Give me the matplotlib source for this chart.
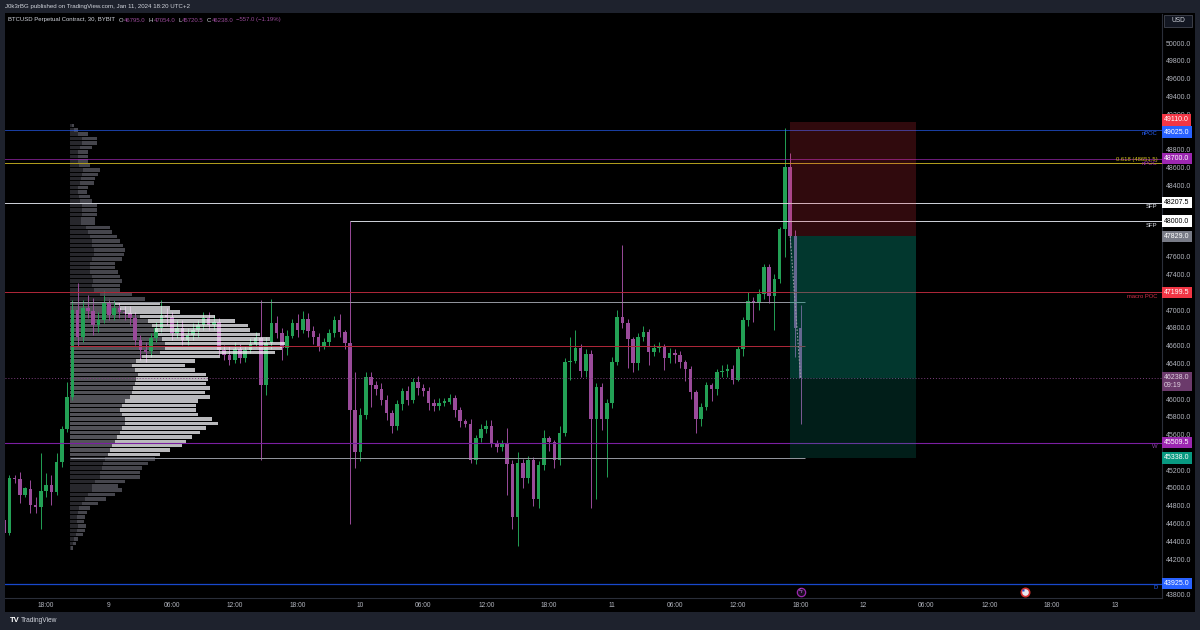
import numpy as np
import pandas as pd
import matplotlib
matplotlib.use("Agg")
import matplotlib.pyplot as plt
from matplotlib.patches import Rectangle
from matplotlib.colors import to_rgba

plt.rcParams['font.family'] = ['Liberation Sans', 'DejaVu Sans']

# 30 min candles, BTCUSD Bybit, first bar Jan 8 14:00 (UTC+2)
opens = [44640, 44495, 45110, 45100, 44920, 44990, 44810, 44790, 44965, 45035,
         44955, 45290, 45660, 46020, 47000, 46695, 47020, 46990, 46830, 46890,
         47080, 46945, 47020, 46980, 46965, 46910, 46660, 46550, 46535, 46685,
         46800, 46945, 46925, 46740, 46800, 46665, 46720, 46775, 46830, 46910,
         46830, 46870, 46550, 46500, 46440, 46560, 46460, 46550, 46620, 46680,
         46160, 46630, 46850, 46740, 46570, 46710, 46855, 46780, 46900, 46765,
         46695, 46600, 46640, 46740, 46890, 46750, 46630, 45875, 45400, 45820,
         46250, 46160, 46110, 45990, 45840, 45700, 45945, 46090, 45990, 46190,
         46120, 46090, 45950, 45920, 45960, 45965, 46010, 45880, 45750, 45720,
         45310, 45560, 45660, 45700, 45510, 45465, 45500, 45270, 44670, 45280,
         45110, 45310, 44880, 45260, 45560, 45515, 45315, 45620, 46415, 46430,
         46570, 46310, 46505, 45775, 46135, 45775, 45950, 46415, 46920, 46855,
         46670, 46405, 46700, 46750, 46530, 46575, 46580, 46460, 46520, 46500,
         46415, 46335, 46080, 45775, 45910, 46160, 46115, 46305, 46310, 46340,
         46215, 46560, 46890, 47100, 47080, 47180, 47480, 47160, 47350, 47910,
         48610, 47830, 46795]
highs = [44700, 45145, 45150, 45180, 45010, 45090, 44900, 45395, 45170, 45145,
         45395, 45700, 46190, 47110, 47300, 47110, 47170, 47135, 46980, 47225,
         47135, 47110, 47090, 47050, 47050, 46980, 46720, 46640, 46740, 46860,
         47110, 47020, 46980, 46890, 46890, 46800, 46850, 46890, 46980, 46980,
         46940, 46910, 46610, 46600, 46640, 46620, 46600, 46680, 46750, 47110,
         46700, 47120, 46930, 46800, 46780, 46900, 46960, 46990, 46970, 46820,
         46740, 46680, 46790, 46930, 46950, 46780, 48000, 46300, 45900, 46300,
         46300, 46200, 46180, 46050, 45880, 45990, 46120, 46150, 46240, 46260,
         46170, 46130, 46000, 46010, 46010, 46060, 46050, 45910, 45780, 45770,
         45600, 45720, 45760, 45760, 45540, 45540, 45670, 45320, 45400, 45330,
         45360, 45350, 45300, 45650, 45580, 45540, 45700, 46460, 46700, 46775,
         46620, 46560, 46550, 46180, 46180, 46000, 46470, 47000, 47730, 46900,
         46700, 46740, 46820, 46790, 46620, 46640, 46620, 46570, 46560, 46540,
         46440, 46370, 46100, 45950, 46190, 46180, 46340, 46380, 46390, 46380,
         46600, 46920, 47200, 47150, 47240, 47520, 47520, 47400, 47930, 49040,
         48760, 47900, 47054]
lows = [44440, 44470, 45060, 44830, 44900, 44720, 44720, 44540, 44900, 44810,
        44920, 45235, 45630, 45990, 46590, 46640, 46910, 46720, 46755, 46855,
        46890, 46890, 46910, 46890, 46830, 46610, 46440, 46420, 46470, 46640,
        46750, 46830, 46660, 46690, 46610, 46610, 46660, 46700, 46780, 46780,
        46780, 46490, 46440, 46380, 46400, 46400, 46420, 46520, 46580, 45315,
        46045, 46560, 46680, 46440, 46500, 46680, 46700, 46740, 46700, 46620,
        46540, 46560, 46600, 46700, 46700, 46560, 44600, 45230, 45300, 45780,
        45910, 46040, 45930, 45760, 45620, 45650, 45880, 45930, 45950, 46050,
        46030, 45880, 45870, 45880, 45920, 45940, 45800, 45690, 45680, 45280,
        45270, 45520, 45620, 45460, 45400, 45420, 44920, 44540, 44350, 45000,
        45060, 44800, 44780, 45200, 45420, 45230, 45260, 45580, 46210, 46400,
        46250, 46250, 44780, 44880, 45650, 45125, 45900, 46380, 46800, 46350,
        46300, 46330, 46650, 46380, 46480, 46530, 46330, 46410, 46400, 46350,
        46200, 46000, 45620, 45695, 45880, 45980, 46050, 46250, 46250, 46170,
        46200, 46480, 46820, 46860, 47000, 47120, 47080, 46780, 47300, 47600,
        47700, 46470, 45720]
closes = [44490, 45110, 45100, 44920, 44995, 44810, 44790, 44965, 45035, 44955,
          45290, 45660, 46020, 47000, 46695, 47020, 46990, 46830, 46890, 47080,
          46945, 47020, 46980, 46965, 46910, 46660, 46550, 46530, 46685, 46800,
          46945, 46925, 46740, 46800, 46665, 46720, 46775, 46830, 46910, 46830,
          46870, 46550, 46495, 46440, 46560, 46460, 46550, 46620, 46680, 46160,
          46630, 46850, 46740, 46570, 46710, 46855, 46780, 46900, 46765, 46695,
          46600, 46640, 46740, 46890, 46750, 46630, 45875, 45400, 45820, 46250,
          46160, 46110, 45990, 45840, 45700, 45945, 46090, 45990, 46190, 46120,
          46090, 45950, 45920, 45960, 45965, 46010, 45880, 45750, 45720, 45310,
          45560, 45660, 45700, 45510, 45465, 45500, 45270, 44670, 45280, 45110,
          45310, 44880, 45260, 45560, 45515, 45315, 45620, 46415, 46430, 46570,
          46310, 46505, 45775, 46135, 45775, 45950, 46415, 46920, 46855, 46670,
          46405, 46700, 46750, 46530, 46575, 46580, 46460, 46520, 46500, 46415,
          46335, 46080, 45775, 45910, 46160, 46115, 46305, 46310, 46340, 46215,
          46560, 46890, 47100, 47080, 47180, 47480, 47160, 47350, 47910, 48610,
          47830, 46795, 46238]

# visible range volume profile, 50 USD rows from 44300
profile_total = [3, 6, 8, 13, 15, 16, 14, 15, 17, 20, 28, 36, 45, 52, 48, 55, 70, 70, 72, 78, 85,
                 90, 100, 112, 116, 122, 130, 136, 148, 142, 128, 126, 126, 128, 140, 135, 140,
                 136, 138, 136, 125, 115, 125, 150, 205, 212, 215, 200, 190, 180, 178, 165, 145,
                 110, 100, 90,
                 75, 62, 50, 50, 52, 50, 48, 45, 45, 52, 54, 55, 53, 50, 47, 42, 40, 25, 25, 27,
                 27, 27, 22, 20, 17, 18, 24, 25, 28, 30, 20, 18, 18, 18, 22, 27, 27, 18, 8, 4]
profile_up = [1, 3, 4, 6, 7, 8, 7, 7, 8, 9, 12, 15, 18, 22, 22, 25, 30, 30, 32, 33, 35,
              38, 40, 42, 45, 47, 50, 52, 55, 55, 52, 50, 52, 55, 60, 62, 63, 65, 66, 68, 65,
              62, 66, 72, 90, 95, 95, 92, 88, 85, 82, 78, 70, 55, 50, 45,
              35, 30, 24, 22, 23, 22, 20, 20, 20, 22, 24, 24, 22, 22, 20, 18, 16, 11, 11, 12,
              12, 12, 10, 9, 8, 8, 10, 11, 12, 13, 9, 8, 8, 8, 10, 12, 12, 8, 4, 2]
profile_bottom = 44300
profile_row = 50
va_low, va_high, vpoc = 45338, 47090, 46600

# levels
npoc_blue = 49025
npoc_purple = 48700
fib_618 = 48651.5
sfp_1 = 48207.5
sfp_2 = 48000
macro_poc = 47199.5
weekly = 45509.5
daily = 43925
entry, stop, target = 47829, 49110, 45338
last_price = 46238

time_ticks = [-6, 0, 6, 12, 18, 24, 30, 36, 42, 48, 54, 60, 66, 72, 78, 84, 90, 96]
time_labels = ['18:00', '9', '06:00', '12:00', '18:00', '10', '06:00', '12:00', '18:00',
               '11', '06:00', '12:00', '18:00', '12', '06:00', '12:00', '18:00', '13']

GREEN = '#23a055'
PURPLE = '#9a4b9a'
TXT = '#b2b5be'

opens, highs, lows, closes = map(np.array, (opens, highs, lows, closes))
times = pd.date_range('2024-01-08 14:00', periods=len(opens), freq='30min')
hrs = ((times - pd.Timestamp('2024-01-09')) / pd.Timedelta(hours=1)).to_numpy()

W, H = 1200, 630
fig = plt.figure(figsize=(12, 6.3), dpi=100, facecolor='#1e222d')
fig.add_artist(Rectangle((5 / W, 1 - 612 / H), 1190 / W, 599 / H, transform=fig.transFigure,
                         fc='black', ec='none', zorder=-1))
ax = fig.add_axes([5 / W, 1 - 598 / H, 1157 / W, 584 / H])
ax.set_facecolor('black')
ax.set_xlim(-9.92, 100.48)
ax.set_ylim(43764, 50326)

# candles
col = np.where(closes >= opens, GREEN, PURPLE)
ax.vlines(hrs, lows, highs, colors=col, lw=0.7, zorder=3)
ax.bar(hrs, np.maximum(np.abs(closes - opens), 12), bottom=np.minimum(opens, closes),
       width=0.34, color=col, lw=0, zorder=3)

# volume profile
tot = np.array(profile_total, float)
upv = np.array(profile_up, float)
centers = profile_bottom + profile_row * (np.arange(len(tot)) + 0.5)
in_va = (centers > va_low) & (centers < va_high)
scale = 20.5 / tot.max()
p_left = -3.75
inner_c = [to_rgba('#5c5c62', 0.9) if v else to_rgba('#2c2c31', 0.9) for v in in_va]
outer_c = [to_rgba('#f4f4f8', 0.76) if v else to_rgba('#52525a', 0.85) for v in in_va]
ax.barh(centers, upv * scale, left=p_left, height=profile_row * 0.78, color=inner_c, lw=0, zorder=2)
ax.barh(centers, (tot - upv) * scale, left=p_left + upv * scale, height=profile_row * 0.78,
        color=outer_c, lw=0, zorder=4)

# horizontal levels
t_end = hrs[-1] + 0.4
ax.axhline(npoc_blue, color='#2962ff', lw=0.6, alpha=0.75, zorder=5)
ax.axhline(npoc_purple, color='#9c27b0', lw=0.7, alpha=0.7, zorder=5)
ax.axhline(fib_618, color='#b5a01e', lw=0.7, zorder=5)
ax.axhline(sfp_1, color='#d1d4dc', lw=0.7, zorder=5)
ax.hlines(sfp_2, hrs[66], 100.48, color='#d1d4dc', lw=0.7, zorder=5)
ax.axhline(macro_poc, color='#b2283a', lw=0.7, zorder=5)
ax.axhline(weekly, color='#7b1fa2', lw=0.8, zorder=5)
ax.axhline(daily, color='#1848cc', lw=0.9, zorder=5)
ax.hlines([va_high, va_low], p_left, t_end, color='#9598a1', lw=0.7, zorder=5)
ax.hlines(vpoc, p_left, t_end, color='#b2283a', lw=0.7, zorder=5)
ax.axhline(last_price, color='#7e3f7e', lw=0.7, ls=(0, (1, 2)), zorder=5)

# short position tool
t0, t1 = 65, 77
ax.add_patch(Rectangle((t0, entry), t1 - t0, stop - entry, fc='#f23645', alpha=0.2, lw=0, zorder=6))
ax.add_patch(Rectangle((t0, last_price), t1 - t0, entry - last_price, fc='#089981', alpha=0.36, lw=0, zorder=6))
ax.add_patch(Rectangle((t0, target), t1 - t0, last_price - target, fc='#089981', alpha=0.2, lw=0, zorder=6))
ax.plot([t0, hrs[-1]], [entry, last_price], color='#9598a1', lw=0.8, ls=(0, (1.5, 1.5)), zorder=6)

# labels next to the levels
ytr = ax.get_yaxis_transform()
def lvl_text(price, s, c, va='top', dy=0):
    ax.annotate(s, xy=(0.996, price), xycoords=ytr, xytext=(0, dy), textcoords='offset points',
                ha='right', va=va, fontsize=4.2, color=c, zorder=7)

lvl_text(npoc_blue, 'nPOC', '#2962ff', 'top', -0.8)
lvl_text(npoc_purple, 'nPOC', '#9c27b0', 'top', -1.5)
lvl_text(fib_618, '0.618 (48651.5)', '#d4c21c', 'bottom', 0.8)
lvl_text(sfp_1, 'SFP', '#e0e3eb', 'top', -1.2)
lvl_text(sfp_2, 'SFP', '#e0e3eb', 'top', -1.2)
lvl_text(macro_poc, 'macro POC', '#d8304a', 'top', -1.2)
lvl_text(weekly, 'W', '#8e44ad', 'top', -1.2)
lvl_text(daily, 'D', '#2962ff', 'top', -1.2)

# price scale: hide the tick labels that sit under a price tag
tags = [stop, npoc_blue, npoc_purple, sfp_1, sfp_2, entry, macro_poc, weekly, target, daily]
yt = np.arange(43800, 50001, 200)
ylab = []
for v in yt:
    hidden = min(abs(v - p) for p in tags) < 80 or (last_price - 190 < v < last_price + 90)
    ylab.append('' if hidden else f'{v:.1f}')
ax.yaxis.tick_right()
ax.set_yticks(yt)
ax.set_yticklabels(ylab)
ax.set_xticks(time_ticks)
ax.set_xticklabels(time_labels)
ax.tick_params(axis='y', length=0, pad=2.6, labelsize=5, labelcolor=TXT)
ax.tick_params(axis='x', length=0, pad=3.2, labelsize=4.8, labelcolor=TXT)
for s in ['top', 'left']:
    ax.spines[s].set_visible(False)
for s in ['right', 'bottom']:
    ax.spines[s].set_color('#2a2e39')
    ax.spines[s].set_linewidth(0.8)

def price_tag(price, s, fc, tc='white', dy=0):
    ax.annotate(s, xy=(1, price), xycoords=ytr, xytext=(1.6, dy), textcoords='offset points',
                ha='left', va='center', fontsize=5, color=tc, annotation_clip=False, zorder=10,
                bbox=dict(boxstyle='square,pad=0.3', fc=fc, ec='none'))

price_tag(stop, '49110.0', '#f23645', dy=1.6)
price_tag(npoc_blue, '49025.0', '#2962ff', dy=-1.6)
price_tag(npoc_purple, '48700.0', '#9c27b0')
price_tag(sfp_1, '48207.5', 'white', 'black')
price_tag(sfp_2, '48000.0', 'white', 'black')
price_tag(entry, '47829.0', '#787b86')
price_tag(macro_poc, '47199.5', '#f23645')
price_tag(last_price, '46238.0\n09:19', '#6b3a6b', '#e0d0e0', -2.6)
price_tag(weekly, '45509.5', '#9c27b0')
price_tag(target, '45338.0', '#089981')
price_tag(daily, '43925.0', '#2962ff')

# economic event icons on the time scale
btr = ax.get_xaxis_transform()
ax.plot([66], [0.011], 'o', ms=6, mfc='#1a0f1f', mec='#9c27b0', mew=0.9, transform=btr,
        clip_on=False, zorder=8)
ax.text(66, 0.011, 'ϟ', color='#b35fd0', fontsize=5, ha='center', va='center', transform=btr, zorder=9)
ax.plot([87.4], [0.011], 'o', ms=6, mfc='#e8e8f0', mec='#d32f2f', mew=1.2, transform=btr,
        clip_on=False, zorder=8)
ax.plot([87.2], [0.014], 's', ms=2, mfc='#1e4fd8', mec='none', transform=btr, zorder=9)

# header and legend, pieces placed one after another
renderer = fig.canvas.get_renderer()
fig.text(5 / W, 1 - 6.5 / H, 'J0k3rBG published on TradingView.com, Jan 11, 2024 18:20 UTC+2',
         color='#d1d4dc', fontsize=4.4, va='center')
ly = 1 - 20 / H
xp = 8
for s, c, gap in [('BTCUSD Perpetual Contract, 30, BYBIT', '#d1d4dc', 3.5),
                  ('O', '#d1d4dc', 0.6), ('46795.0', PURPLE, 3),
                  ('H', '#d1d4dc', 0.6), ('47054.0', PURPLE, 3),
                  ('L', '#d1d4dc', 0.6), ('45720.5', PURPLE, 3),
                  ('C', '#d1d4dc', 0.6), ('46238.0', PURPLE, 3),
                  ('\u2212557.0 (\u22121.19%)', PURPLE, 0)]:
    t = fig.text(xp / W, ly, s, color=c, fontsize=4.3, va='center')
    xp += t.get_window_extent(renderer=renderer).width + gap

# USD button
fig.add_artist(Rectangle((1164 / W, 1 - 27 / H), 28 / W, 12 / H, transform=fig.transFigure,
                         fc='#131722', ec='#434651', lw=0.6))
fig.text(1178 / W, 1 - 21 / H, 'USD', color='#d1d4dc', fontsize=4.8, ha='center', va='center')

# footer logo
fig.text(10 / W, 1 - 621 / H, 'TV', color='white', fontsize=5.5, fontweight='bold', va='center')
fig.text(21 / W, 1 - 621 / H, 'TradingView', color='#d1d4dc', fontsize=4.8, va='center')

fig.savefig('out.png', dpi=100, facecolor=fig.get_facecolor())
